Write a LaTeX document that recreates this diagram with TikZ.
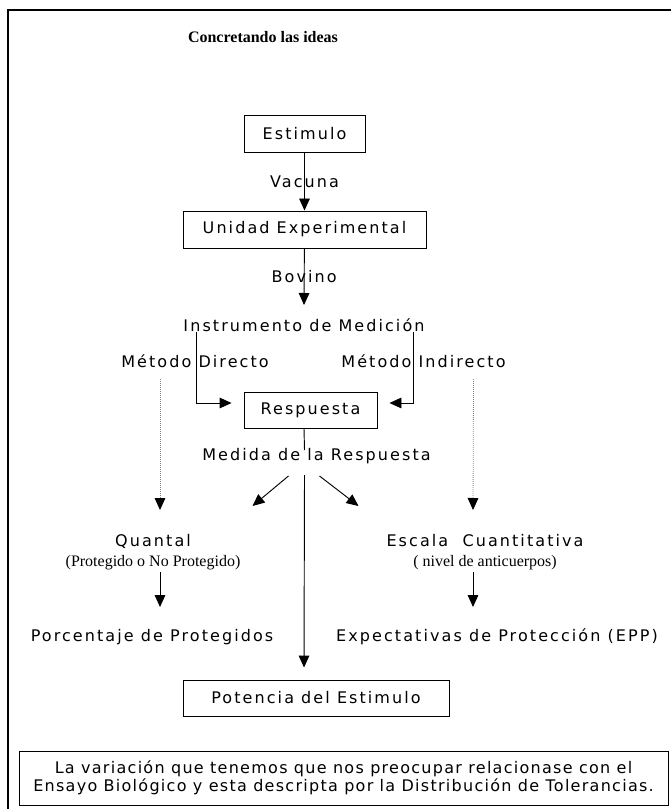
\documentclass[tikz,border=0pt]{standalone}
\usepackage{fontspec}
\setmainfont{Liberation Serif}
\newfontfamily\spacedsans[LetterSpace=13]{DejaVu Sans}
\newfontfamily\notesans[LetterSpace=8]{DejaVu Sans}
\usetikzlibrary{arrows.meta}

\begin{document}
\begin{tikzpicture}[
        x=0.75pt, y=-0.75pt,
        block/.style={draw, line width=0.7pt, minimum height=27pt, inner sep=0pt, font=\spacedsans\fontsize{12}{14}\selectfont},
        lbl/.style={inner sep=0pt, font=\spacedsans\fontsize{12}{14}\selectfont},
        paren/.style={inner sep=0pt, font=\fontsize{12}{14}\selectfont},
        arrow/.style={-{Triangle[length=9pt, width=8pt]}, line width=0.7pt},
        dotarrow/.style={-{Triangle[length=9pt, width=8pt, color=black]}, gray, line width=0.6pt, dash pattern=on 0.6pt off 0.9pt}
    ]
        \useasboundingbox (0, 0) rectangle (671, 809);

        % Frame
        \draw[line width=1.5pt] (8, 809) -- (8, 10) -- (671, 10);

        % Title
        \node[inner sep=0pt, font=\bfseries\fontsize{12}{14}\selectfont] (title) at (263, 37) {Concretando las ideas};

        % Stimulus and unit
        \node[block, minimum width=90.75pt, minimum height=27.75pt] (estimulo) at (304.5, 133.5) {Estimulo};
        \node[block, minimum width=182.25pt, minimum height=27.75pt] (unidad) at (304.5, 229.5) {Unidad Experimental};

        % Measuring
        \node[lbl] (instrumento) at (304, 325) {Instrumento de Medición};
        \node[lbl] (directo) at (195, 361) {Método Directo};
        \node[lbl] (indirecto) at (423.5, 361) {Método Indirecto};
        \node[block, minimum width=99.75pt] (respuesta) at (310.5, 410) {Respuesta};
        \node[lbl] (medida) at (316.5, 456) {Medida de la Respuesta};

        % Two scales
        \node[lbl] (quantal) at (153, 541) {Quantal};
        \node[paren] (protegido) at (153, 563) {(Protegido o No Protegido)};
        \node[lbl] (escala) at (485, 541) {Escala \ Cuantitativa};
        \node[paren] (anticuerpos) at (485, 563) {( nivel de anticuerpos)};
        \node[lbl] (porcentaje) at (152, 637) {Porcentaje de Protegidos};
        \node[lbl] (expectativas) at (497, 637) {Expectativas de Protección (EPP)};

        % Potency
        \node[block, minimum width=199.5pt] (potencia) at (316, 698) {Potencia del Estimulo};

        % Note
        \node[block, minimum width=486.75pt, minimum height=40.5pt, align=center, font=\notesans\fontsize{12}{13.5}\selectfont] (nota) at (343.5, 778) {
            La variación que tenemos que nos preocupar relacionase con el\\
            Ensayo Biológico y esta descripta por la Distribución de Tolerancias.
        };

        % Arrows
        \draw[arrow] (estimulo) -- (unidad) node[lbl, midway] {Vacuna};
        \draw[arrow] (unidad) -- ([shift={(0,-20)}]instrumento.center) node[lbl, midway] {Bovino};
        \draw[arrow] ([shift={(-108,7)}]instrumento.center) |- ([shift={(-12,-7)}]respuesta.west);
        \draw[arrow] ([shift={(109,7)}]instrumento.center) |- ([shift={(12,-7)}]respuesta.east);
        \draw[line width=0.7pt] ([shift={(-6.5,0)}]respuesta.south) -- ([shift={(-12,-6)}]medida.center);
        \draw[arrow] ([shift={(-12,19)}]medida.center) -- ([shift={(-12,-12)}]potencia.north);
        \draw[arrow] ([shift={(-28,20)}]medida.center) -- ([shift={(-64,50)}]medida.center);
        \draw[arrow] ([shift={(3,20)}]medida.center) -- ([shift={(42,50)}]medida.center);
        \draw[dotarrow] ([shift={(-35,18)}]directo.center) -- ([shift={(7,-31)}]quantal.center);
        \draw[dotarrow] ([shift={(50,18)}]indirecto.center) -- ([shift={(-12,-31)}]escala.center);
        \draw[arrow] ([shift={(7,9)}]protegido.center) -- ([shift={(8,-30)}]porcentaje.center);
        \draw[arrow] ([shift={(-12,9)}]anticuerpos.center) -- ([shift={(-24,-30)}]expectativas.center);
    \end{tikzpicture}
\end{document}
